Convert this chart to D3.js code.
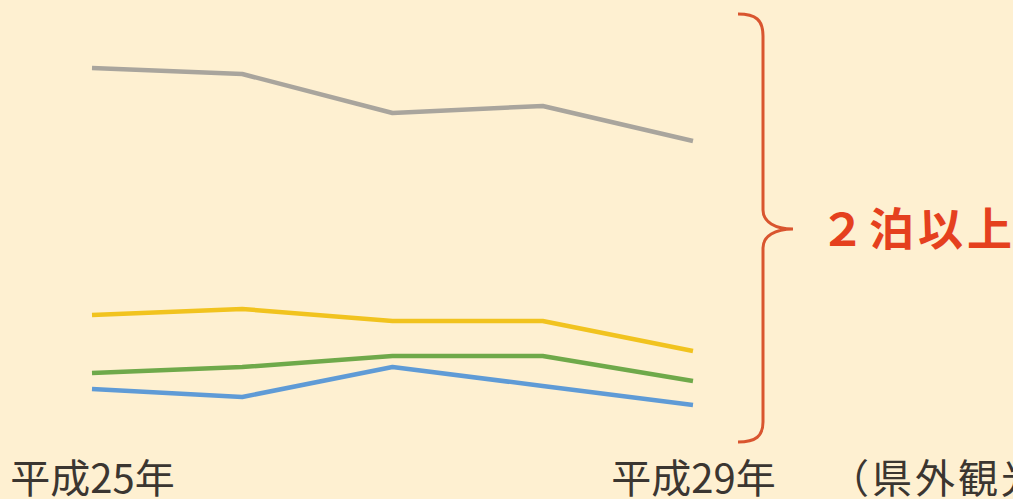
<!DOCTYPE html>
<html>
<head>
<meta charset="utf-8">
<script src="https://cdn.jsdelivr.net/npm/d3@7"></script>
<style>
  html, body { margin: 0; padding: 0; background: #fef0d1; }
  svg { display: block; }
  text { font-family: "Noto Sans CJK JP", "Noto Sans", sans-serif; }
</style>
</head>
<body>
<svg id="chart" width="1013" height="499"></svg>
<script>
// ---- data ----
const categories = ["平成25年", "平成26年", "平成27年", "平成28年", "平成29年"];
const shownTicks = ["平成25年", "平成29年"];
const seriesGray   = [37.2, 36.6, 32.7, 33.4, 29.9];
const seriesYellow = [12.5, 13.1, 11.9, 11.9, 8.9];
const seriesGreen  = [6.7, 7.3, 8.4, 8.4, 5.9];
const seriesBlue   = [5.1, 4.3, 7.3, 5.4, 3.5];
const braceLabel = "２泊以上";
const noteLabel = "（県外観光客";

const series = [
  { values: seriesGray,   color: "#a9a59d" },
  { values: seriesYellow, color: "#f1c31f" },
  { values: seriesGreen,  color: "#6fa94a" },
  { values: seriesBlue,   color: "#5f9bd6" }
];

const svg = d3.select("#chart");

const x = d3.scalePoint().domain(categories).range([92, 693]);
const y = d3.scaleLinear().domain([0, 40]).range([440, 40]);

const line = d3.line()
  .x((d, i) => x(categories[i]))
  .y(d => y(d));

svg.append("g").selectAll("path")
  .data(series)
  .join("path")
  .attr("d", d => line(d.values))
  .attr("fill", "none")
  .attr("stroke", d => d.color)
  .attr("stroke-width", 4.5)
  .attr("stroke-linejoin", "round")
  .attr("stroke-linecap", "butt");

// bottom axis with first/last labels only
const axis = d3.axisBottom(x).tickValues(shownTicks).tickSize(0).tickPadding(0);
const gx = svg.append("g").attr("transform", "translate(0,460)").call(axis);
gx.select(".domain").remove();
gx.selectAll("text")
  .attr("dy", "0")
  .attr("y", 33)
  .attr("fill", "#3b3631")
  .style("font-size", "40px")
  .style("font-weight", "400")
  .style("font-family", '"Noto Sans CJK JP", sans-serif');

// note text (cut off at the right, as in the reference)
svg.append("text")
  .attr("x", 829)
  .attr("y", 493)
  .attr("fill", "#3b3631")
  .style("font-size", "40px")
  .style("letter-spacing", "3px")
  .text(noteLabel);

// brace
svg.append("path")
  .attr("d", "M738,14 C756,14 763,20 763,36 L763,210 C763,222 775,229 793,229 C775,229 763,236 763,248 L763,422 C763,436 756,442 738,442")
  .attr("fill", "none")
  .attr("stroke", "#d9552f")
  .attr("stroke-width", 3);

svg.append("text")
  .attr("x", 820)
  .attr("y", 246)
  .attr("fill", "#e5401e")
  .style("font-size", "45px")
  .style("font-weight", "700")
  .style("letter-spacing", "4px")
  .text(braceLabel);
</script>
</body>
</html>
